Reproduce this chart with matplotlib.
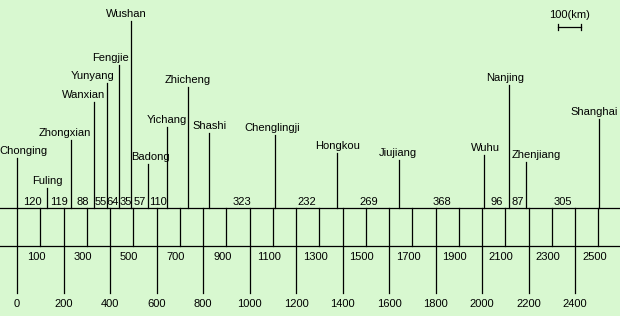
import matplotlib.pyplot as plt

# Yangtze river ports: position along the river (km from Chongqing)
cities = ["Chonging", "Fuling", "Zhongxian", "Wanxian", "Yunyang", "Fengjie",
          "Wushan", "Badong", "Yichang", "Zhicheng", "Shashi", "Chenglingji",
          "Hongkou", "Jiujiang", "Wuhu", "Nanjing", "Zhenjiang", "Shanghai"]
city_km = [0, 130, 234, 333, 386, 440, 492, 565, 647, 737, 827, 1111,
           1378, 1644, 2010, 2118, 2191, 2502]
# height of each city's stick above the river line
city_height = [50, 20, 68, 106, 125, 143, 187, 44, 81, 121, 75, 73,
               55, 48, 53, 123, 46, 89]
# distance between neighbouring ports (None = not labelled)
distances = [120, 119, 88, 55, 64, 35, 57, 110, None, None, 323, 232,
             269, 368, 96, 87, 305]
scale_ticks = list(range(0, 2600, 100))

BG = "#d8f8d0"
PX = 0.2325  # pixels per km
# label nudges in pixels so names don't collide
label_dx = [6, 0, -7, -11, -14, -9, -5, 2, -1, -1, 0, -3, 0, -1, 1, -4, 10, -5]

plt.rcParams["font.family"] = ["Liberation Sans", "DejaVu Sans"]

fig = plt.figure(figsize=(6.2, 3.16), dpi=100, facecolor=BG)
ax = fig.add_axes([0, 0, 1, 1], facecolor=BG)
ax.set_xlim(-17 / PX, (620 - 17) / PX)
ax.set_ylim(-108, 208)
ax.axis("off")

lw = 0.9
fs = 8

# main river line and scale line
ax.axhline(0, color="black", lw=lw)
ax.axhline(-38, color="black", lw=lw)

# city sticks and names
for name, km, h, dx in zip(cities, city_km, city_height, label_dx):
    ax.plot([km, km], [0, h], color="black", lw=lw)
    ax.text(km + dx / PX, h + 4, name, ha="center", va="baseline", fontsize=fs)

# distances between ports
for i, d in enumerate(distances):
    if d is None:
        continue
    mid = (city_km[i] + city_km[i + 1]) / 2
    ax.text(mid, 3, str(d), ha="center", va="baseline", fontsize=fs)

# km scale
for t in scale_ticks:
    if t % 200 == 0:
        ax.plot([t, t], [0, -85], color="black", lw=lw)
        ax.text(t, -96, str(t), ha="center", va="center", fontsize=fs)
    else:
        ax.plot([t, t], [0, -38], color="black", lw=lw)
        ax.text(t - 4 / PX, -49, str(t), ha="center", va="center", fontsize=fs)

# 100 km scale bar
ax.plot([2327, 2427], [181, 181], color="black", lw=lw)
ax.plot([2327, 2327], [178, 184], color="black", lw=lw)
ax.plot([2427, 2427], [178, 184], color="black", lw=lw)
ax.text(2377, 193, "100(km)", ha="center", va="center", fontsize=fs)

fig.savefig("out.png", dpi=100, facecolor=BG)
